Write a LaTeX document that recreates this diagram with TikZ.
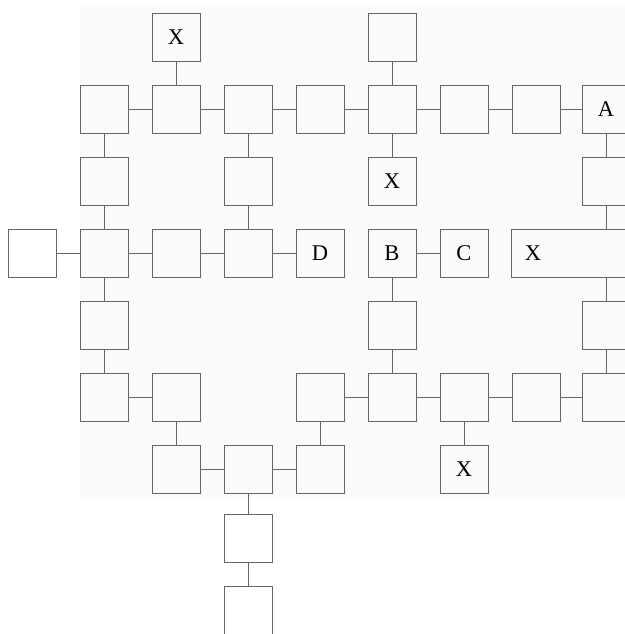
\documentclass[tikz,border=0pt]{standalone}
\usepackage{fontspec}
\setmainfont{Liberation Serif}
\begin{document}
\begin{tikzpicture}[x=0.025cm,y=-0.025cm,
  box/.style={draw=black!60,line width=0.5pt,minimum size=1.2cm,inner sep=0pt,font=\fontsize{16}{19}\selectfont},
  link/.style={draw=black!60,line width=0.5pt}]
\useasboundingbox (0,0) rectangle (625,634);
\clip (0,0) rectangle (625,634);
\fill[black!2] (80,5) rectangle (625,497);
% row 0
\node[box] (r0c2) at (176,37) {X};
\node[box] (r0c5) at (392,37) {};
% row 1
\node[box] (r1c1) at (104,109) {};
\node[box] (r1c2) at (176,109) {};
\node[box] (r1c3) at (248,109) {};
\node[box] (r1c4) at (320,109) {};
\node[box] (r1c5) at (392,109) {};
\node[box] (r1c6) at (464,109) {};
\node[box] (r1c7) at (536,109) {};
\node[box] (r1c8) at (606,109) {A};
% row 2
\node[box] (r2c1) at (104,181) {};
\node[box] (r2c3) at (248,181) {};
\node[box] (r2c5) at (392,181) {X};
\node[box] (r2c8) at (606,181) {};
% row 3
\node[box] (r3c0) at (32,253) {};
\node[box] (r3c1) at (104,253) {};
\node[box] (r3c2) at (176,253) {};
\node[box] (r3c3) at (248,253) {};
\node[box] (r3c4) at (320,253) {D};
\node[box] (r3c5) at (392,253) {B};
\node[box] (r3c6) at (464,253) {C};
\node[box,minimum width=3cm,text width=2.3cm,inner xsep=0.35cm,align=left] (r3x) at (571,253) {X};
% row 4
\node[box] (r4c1) at (104,325) {};
\node[box] (r4c5) at (392,325) {};
\node[box] (r4c8) at (606,325) {};
% row 5
\node[box] (r5c1) at (104,397) {};
\node[box] (r5c2) at (176,397) {};
\node[box] (r5c4) at (320,397) {};
\node[box] (r5c5) at (392,397) {};
\node[box] (r5c6) at (464,397) {};
\node[box] (r5c7) at (536,397) {};
\node[box] (r5c8) at (606,397) {};
% row 6
\node[box] (r6c2) at (176,469) {};
\node[box] (r6c3) at (248,469) {};
\node[box] (r6c4) at (320,469) {};
\node[box] (r6c6) at (464,469) {X};
% rows 7 and 8
\node[box] (r7c3) at (248,538) {};
\node[box] (r8c3) at (248,610) {};
% horizontal links
\draw[link] (r1c1) -- (r1c2) (r1c2) -- (r1c3) (r1c3) -- (r1c4) (r1c4) -- (r1c5)
  (r1c5) -- (r1c6) (r1c6) -- (r1c7) (r1c7) -- (r1c8);
\draw[link] (r3c0) -- (r3c1) (r3c1) -- (r3c2) (r3c2) -- (r3c3) (r3c3) -- (r3c4) (r3c5) -- (r3c6);
\draw[link] (r5c1) -- (r5c2) (r5c4) -- (r5c5) (r5c5) -- (r5c6) (r5c6) -- (r5c7) (r5c7) -- (r5c8);
\draw[link] (r6c2) -- (r6c3) (r6c3) -- (r6c4);
% vertical links
\draw[link] (r0c2) -- (r1c2) (r0c5) -- (r1c5);
\draw[link] (r1c1) -- (r2c1) (r1c3) -- (r2c3) (r1c5) -- (r2c5) (r1c8) -- (r2c8);
\draw[link] (r2c1) -- (r3c1) (r2c3) -- (r3c3) (r2c8) -- (r2c8 |- r3x.north);
\draw[link] (r3c1) -- (r4c1) (r3c5) -- (r4c5) (r3x.south -| r4c8) -- (r4c8);
\draw[link] (r4c1) -- (r5c1) (r4c5) -- (r5c5) (r4c8) -- (r5c8);
\draw[link] (r5c2) -- (r6c2) (r5c4) -- (r6c4) (r5c6) -- (r6c6);
\draw[link] (r6c3) -- (r7c3) (r7c3) -- (r8c3);
\end{tikzpicture}
\end{document}
